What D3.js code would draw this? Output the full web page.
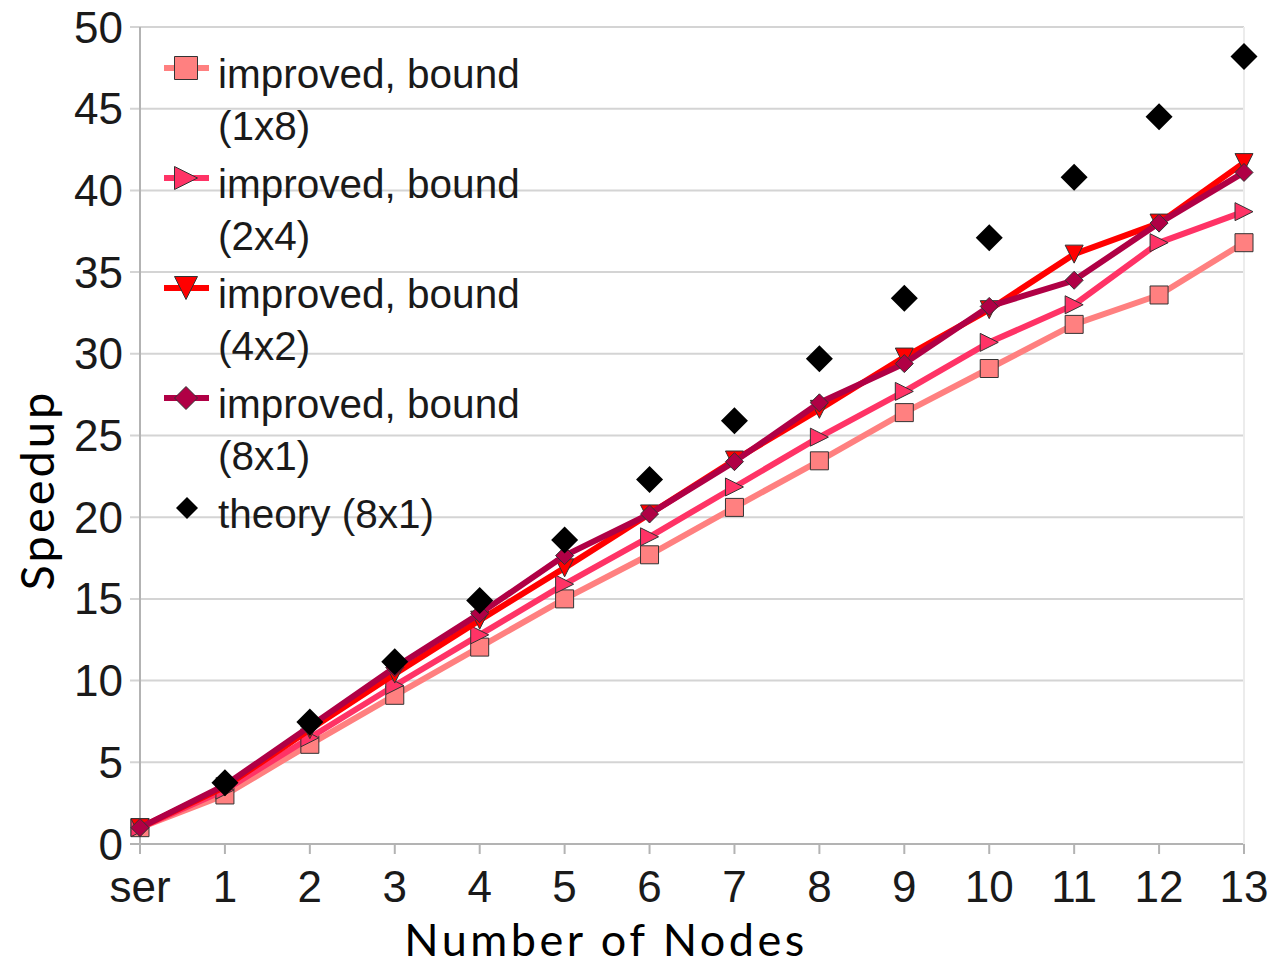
<!DOCTYPE html>
<html><head><meta charset="utf-8">
<script src="https://cdn.jsdelivr.net/npm/d3@7"></script>
<style>html,body{margin:0;padding:0;background:#fff;}svg{display:block;}</style>
</head><body>
<svg id="chart" width="1270" height="966"></svg>
<script>
const categories = ["ser","1","2","3","4","5","6","7","8","9","10","11","12","13"];
const yTicks = [0,5,10,15,20,25,30,35,40,45,50];
const s1x8 = [1.0,3.0,6.1,9.1,12.05,15.0,17.7,20.6,23.45,26.4,29.1,31.8,33.6,36.8];
const s2x4 = [1.0,3.3,6.5,9.7,12.8,15.9,18.8,21.85,24.9,27.7,30.7,33.0,36.8,38.7];
const s4x2 = [1.0,3.5,7.0,10.4,13.7,16.9,20.2,23.5,26.6,29.8,32.7,36.1,38.0,41.7];
const s8x1 = [1.0,3.6,7.2,10.8,14.1,17.65,20.2,23.4,27.0,29.4,32.9,34.5,38.0,41.1];
const theory = [null,3.75,7.47,11.15,14.9,18.6,22.3,25.9,29.7,33.4,37.1,40.8,44.5,48.2];
const seriesNames = ["improved, bound|(1x8)","improved, bound|(2x4)","improved, bound|(4x2)","improved, bound|(8x1)","theory (8x1)"];

const svg = d3.select("#chart");
const x = d3.scalePoint().domain(categories).range([140,1244]);
const y = d3.scaleLinear().domain([0,50]).range([844,27]);

// grid
svg.append("g").selectAll("line").data(yTicks).join("line")
  .attr("x1",130).attr("x2",1244).attr("y1",d=>y(d)).attr("y2",d=>y(d))
  .attr("stroke",d=>d===0?"#b3b3b3":"#d4d4d4").attr("stroke-width",2);
svg.append("line").attr("x1",1244).attr("x2",1244).attr("y1",y(50)).attr("y2",y(0))
  .attr("stroke","#ececec").attr("stroke-width",2);
svg.append("line").attr("x1",140).attr("x2",140).attr("y1",y(50)).attr("y2",y(0)+10)
  .attr("stroke","#b3b3b3").attr("stroke-width",2);
svg.append("g").selectAll("line").data(categories).join("line")
  .attr("x1",d=>x(d)).attr("x2",d=>x(d)).attr("y1",y(0)).attr("y2",y(0)+10)
  .attr("stroke","#b3b3b3").attr("stroke-width",2);

const tickFont = "'Liberation Sans', Arial, sans-serif";
svg.append("g").selectAll("text").data(yTicks).join("text")
  .attr("x",123).attr("y",d=>y(d)+15.5).attr("text-anchor","end")
  .attr("font-family",tickFont).attr("font-size",44).attr("fill","#1a1a1a").text(d=>d);
svg.append("g").selectAll("text").data(categories).join("text")
  .attr("x",d=>x(d)).attr("y",902).attr("text-anchor","middle")
  .attr("font-family",tickFont).attr("font-size",44).attr("fill","#1a1a1a").text(d=>d);

svg.append("text").attr("x",606).attr("y",956).attr("text-anchor","middle")
  .attr("font-family","Lato, sans-serif").attr("font-size",45).attr("letter-spacing",3.5)
  .attr("fill","#000").text("Number of Nodes");
svg.append("text").attr("transform","translate(54,490) rotate(-90)").attr("text-anchor","middle")
  .attr("font-family","Lato, sans-serif").attr("font-size",47).attr("letter-spacing",3)
  .attr("fill","#000").text("Speedup");

// marker shapes (half-size r)
const shape = {
  square: r => `M${-r},${-r}H${r}V${r}H${-r}Z`,
  right: r => `M${-r},${-r}L${r},0L${-r},${r}Z`,
  down: r => `M${-r},${-r}H${r}L0,${r}Z`,
  diamond: r => `M0,${-r}L${r},0L0,${r}L${-r},0Z`
};
const specs = [
  {data:s1x8, color:"#ff8080", shape:"square"},
  {data:s2x4, color:"#ff3366", shape:"right"},
  {data:s4x2, color:"#ff0000", shape:"down"},
  {data:s8x1, color:"#b00045", shape:"diamond"}
];
const line = d3.line().x((d,i)=>x(categories[i])).y(d=>y(d));
specs.forEach(s=>{
  svg.append("path").attr("d",line(s.data)).attr("fill","none")
    .attr("stroke",s.color).attr("stroke-width",6).attr("stroke-linejoin","round");
  svg.append("g").selectAll("path").data(s.data).join("path")
    .attr("d",shape[s.shape](9))
    .attr("transform",(d,i)=>`translate(${x(categories[i])},${y(d)})`)
    .attr("fill",s.color).attr("stroke","#333").attr("stroke-width",1);
});
svg.append("g").selectAll("path").data(theory.map((v,i)=>({v,i})).filter(d=>d.v!==null)).join("path")
  .attr("d",shape.diamond(13.5))
  .attr("transform",d=>`translate(${x(categories[d.i])},${y(d.v)})`)
  .attr("fill","#000");

// legend
const leg = svg.append("g");
const legY = [68,178,288,398,508];
seriesNames.forEach((name,k)=>{
  const g = leg.append("g").attr("transform",`translate(0,${legY[k]})`);
  if(k<4){
    const s = specs[k];
    g.append("rect").attr("x",164).attr("y",-3).attr("width",45).attr("height",6).attr("fill",s.color);
    g.append("path").attr("d",shape[s.shape](11.5)).attr("transform","translate(186,0)")
      .attr("fill",s.color).attr("stroke","#333").attr("stroke-width",1);
  } else {
    g.append("path").attr("d",shape.diamond(11)).attr("transform","translate(187,0)").attr("fill","#000");
  }
  name.split("|").forEach((t,j)=>{
    g.append("text").attr("x",218).attr("y",20+j*52)
      .attr("font-family",tickFont).attr("font-size",40.5).attr("fill","#1a1a1a").text(t);
  });
});
</script>
</body></html>
